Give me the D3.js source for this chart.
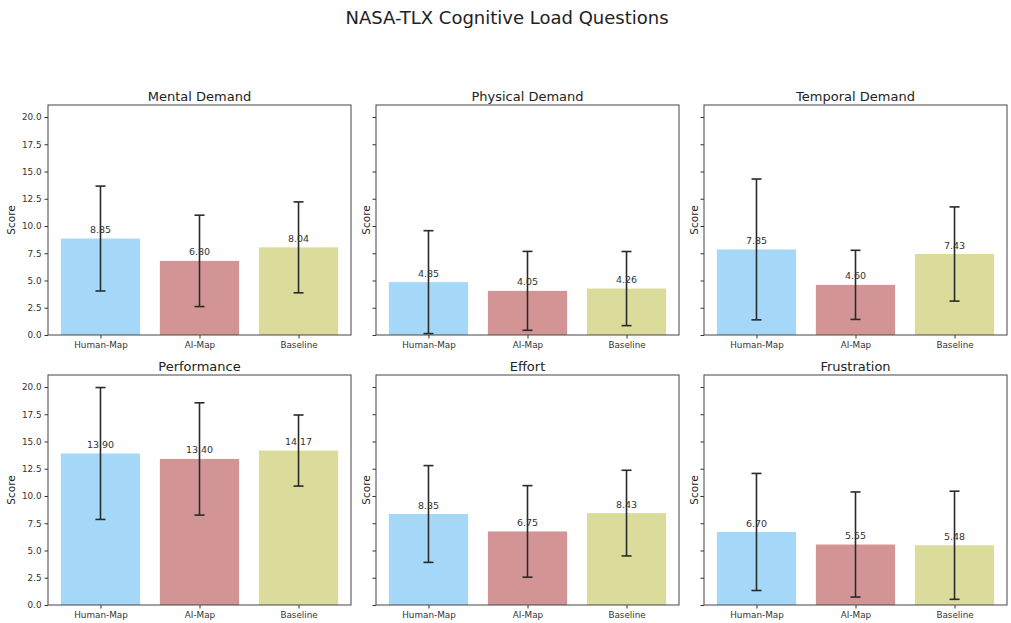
<!DOCTYPE html>
<html><head><meta charset="utf-8">
<script src="https://cdn.jsdelivr.net/npm/d3@7"></script>
<style>body{margin:0;background:#fff}svg{display:block;font-family:"DejaVu Sans",sans-serif}</style>
</head><body><svg id="c" width="1011" height="623"></svg>
<script>
const groups = ["Human-Map", "AI-Map", "Baseline"];
const questions = ["Mental Demand", "Physical Demand", "Temporal Demand", "Performance", "Effort", "Frustration"];
const means = [
  [8.85, 6.80, 8.04],
  [4.85, 4.05, 4.26],
  [7.85, 4.60, 7.43],
  [13.90, 13.40, 14.17],
  [8.35, 6.75, 8.43],
  [6.70, 5.55, 5.48]
];
const sds = [
  [4.81, 4.19, 4.17],
  [4.72, 3.62, 3.40],
  [6.46, 3.17, 4.32],
  [6.05, 5.15, 3.26],
  [4.44, 4.20, 3.93],
  [5.37, 4.82, 4.96]
];
const yTicks = [0, 2.5, 5, 7.5, 10, 12.5, 15, 17.5, 20];
const colors = ["#a5d8f8", "#d29494", "#dbdb9c"];

const svg = d3.select("#c");
svg.append("text").attr("x", 507).attr("y", 24).attr("text-anchor", "middle")
  .attr("font-size", 18).attr("fill", "#222").text("NASA-TLX Cognitive Load Questions");

const lefts = [48, 376, 704], tops = [105, 375], W = 303, H = 230;
const txt = "#333";

questions.forEach((q, i) => {
  const col = i % 3, row = Math.floor(i / 3);
  const g = svg.append("g").attr("transform", `translate(${lefts[col]},${tops[row]})`);
  const x = d3.scaleLinear().domain([-0.53, 2.53]).range([0, W]);
  const y = d3.scaleLinear().domain([0, 21.1]).range([H, 0]);
  const bw = x(0.8) - x(0);

  g.selectAll("rect.bar").data(means[i]).join("rect").attr("class", "bar")
    .attr("x", (d, j) => x(j) - bw / 2).attr("width", bw)
    .attr("y", d => y(d)).attr("height", d => H - y(d)).attr("fill", (d, j) => colors[j]);

  const eb = g.append("g").attr("stroke", "#2a2a2a").attr("stroke-width", 1.6);
  means[i].forEach((m, j) => {
    const lo = m - sds[i][j], hi = m + sds[i][j], cx = x(j);
    eb.append("line").attr("x1", cx).attr("x2", cx).attr("y1", y(lo)).attr("y2", y(hi));
    eb.append("line").attr("x1", cx - 5).attr("x2", cx + 5).attr("y1", y(lo)).attr("y2", y(lo));
    eb.append("line").attr("x1", cx - 5).attr("x2", cx + 5).attr("y1", y(hi)).attr("y2", y(hi));
  });

  g.selectAll("text.val").data(means[i]).join("text").attr("class", "val")
    .attr("x", (d, j) => x(j)).attr("y", d => y(d + 0.5))
    .attr("text-anchor", "middle").attr("font-size", 9.5).attr("fill", txt)
    .text(d => d.toFixed(2));

  const ya = g.append("g").call(d3.axisLeft(y).tickValues(yTicks).tickSize(3.5).tickPadding(3)
    .tickFormat(col === 0 ? d3.format(".1f") : () => ""));
  const xa = g.append("g").attr("transform", `translate(0,${H})`)
    .call(d3.axisBottom(x).tickValues([0, 1, 2]).tickSize(3.5).tickPadding(3).tickFormat(j => groups[j]));
  [ya, xa].forEach(a => {
    a.select(".domain").remove();
    a.selectAll("line").attr("stroke", "#333");
    a.selectAll("text").attr("font-size", 8.8).attr("fill", txt).attr("font-family", "DejaVu Sans");
  });

  g.append("rect").attr("width", W).attr("height", H).attr("fill", "none").attr("stroke", "#444").attr("stroke-width", 1);

  g.append("text").attr("x", W / 2).attr("y", -4).attr("text-anchor", "middle")
    .attr("font-size", 13).attr("fill", "#222").text(q);

  const lx = col === 0 ? -37 : -10;
  g.append("text").attr("transform", `translate(${lx},${H / 2}) rotate(-90)`)
    .attr("text-anchor", "middle").attr("dy", "0.35em").attr("font-size", 10.5).attr("fill", "#222").text("Score");
});
</script></body></html>
